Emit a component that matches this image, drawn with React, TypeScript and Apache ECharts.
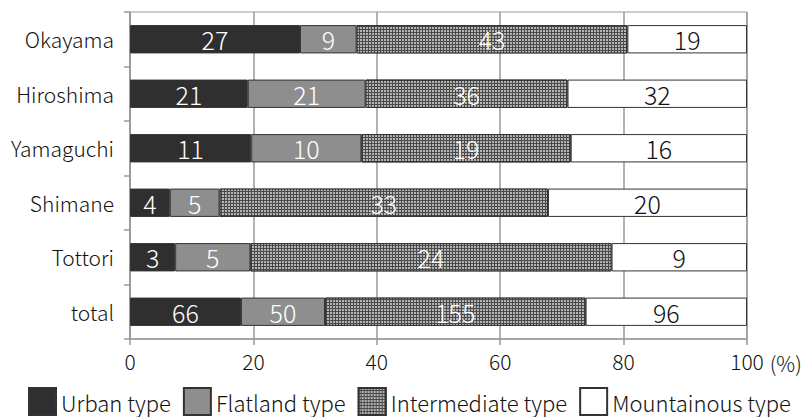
import React, { useEffect, useRef } from "react";
import * as echarts from "echarts";

const categories = ["Okayama", "Hiroshima", "Yamaguchi", "Shimane", "Tottori", "total"];
const urban = [27, 21, 11, 4, 3, 66];
const flatland = [9, 21, 10, 5, 5, 50];
const intermediate = [43, 36, 19, 33, 24, 155];
const mountainous = [19, 32, 16, 20, 9, 96];
const seriesNames = ["Urban type", "Flatland type", "Intermediate type", "Mountainous type"];
const xTicks = [0, 20, 40, 60, 80, 100];

const FONT = "'Noto Sans CJK JP', 'Noto Sans', sans-serif";

export default function App() {
  const ref = useRef<HTMLDivElement>(null);
  useEffect(() => {
    if (!ref.current) return;
    const chart = echarts.init(ref.current, undefined, { renderer: "svg" });
    const groups = [urban, flatland, intermediate, mountainous];
    const totals = categories.map((_, i) => groups.reduce((s, g) => s + g[i], 0));
    const toData = (arr: number[]) =>
      arr.map((c, i) => ({ value: (c / totals[i]) * 100, count: c }));
    const colors = ["#2f2f2f", "#8e8e8e", "#4a4a4a", "#ffffff"];
    const labelColors = ["#ffffff", "#ffffff", "#ffffff", "#111111"];
    const series = groups.map((g, k) => ({
      name: seriesNames[k],
      type: "bar",
      stack: "all",
      barWidth: "52%",
      data: toData(g),
      itemStyle: {
        color: colors[k],
        borderColor: "#333",
        borderWidth: 1,
        ...(k === 2
          ? {
              decal: {
                symbol: "rect",
                symbolSize: 1,
                dashArrayX: [2, 1],
                dashArrayY: [2, 1],
                color: "#b4b4b4",
                rotation: 0,
              },
            }
          : {}),
      },
      label: {
        show: true,
        position: "inside",
        color: labelColors[k],
        fontSize: 25,
        fontWeight: 300,
        fontFamily: FONT,
        formatter: (p: any) => String(p.data.count),
      },
    }));
    chart.setOption({
      animation: false,
      textStyle: { fontFamily: FONT },
      grid: {
        left: 130,
        right: 58,
        top: 12,
        bottom: 78,
        show: true,
        borderColor: "#999",
        borderWidth: 1,
      },
      legend: {
        top: 382,
        left: 23,
        right: 0,
        itemWidth: 27,
        itemHeight: 27,
        itemGap: 12,
        icon: "rect",
        textStyle: { fontSize: 22, fontWeight: 300, color: "#111", fontFamily: FONT },
        data: seriesNames,
      },
      xAxis: {
        type: "value",
        min: 0,
        max: 100,
        interval: 20,
        name: "(%)",
        nameLocation: "end",
        nameGap: 15,
        nameTextStyle: {
          fontSize: 21,
          fontWeight: 300,
          color: "#111",
          fontFamily: FONT,
          align: "left",
          verticalAlign: "top",
          padding: [14, 0, 0, 0],
        },
        axisLine: { show: true, lineStyle: { color: "#999", width: 1.5 } },
        axisTick: { show: true, length: 6, lineStyle: { color: "#999", width: 1.5 } },
        splitLine: { show: true, lineStyle: { color: "#999", width: 1.5 } },
        axisLabel: {
          fontSize: 21,
          fontWeight: 300,
          color: "#111",
          fontFamily: FONT,
          margin: 11,
          formatter: (v: number) => (xTicks.includes(v) ? String(v) : ""),
        },
      },
      yAxis: {
        type: "category",
        data: categories,
        inverse: true,
        axisLine: { show: true, lineStyle: { color: "#999", width: 1.5 } },
        axisTick: { show: true, length: 6, lineStyle: { color: "#999", width: 1.5 } },
        axisLabel: { fontSize: 21, fontWeight: 300, color: "#111", fontFamily: FONT, margin: 16 },
      },
      series,
    });
    return () => chart.dispose();
  }, []);
  return (
    <div
      ref={ref}
      style={{ position: "absolute", left: 0, top: 0, width: 805, height: 417 }}
    />
  );
}
